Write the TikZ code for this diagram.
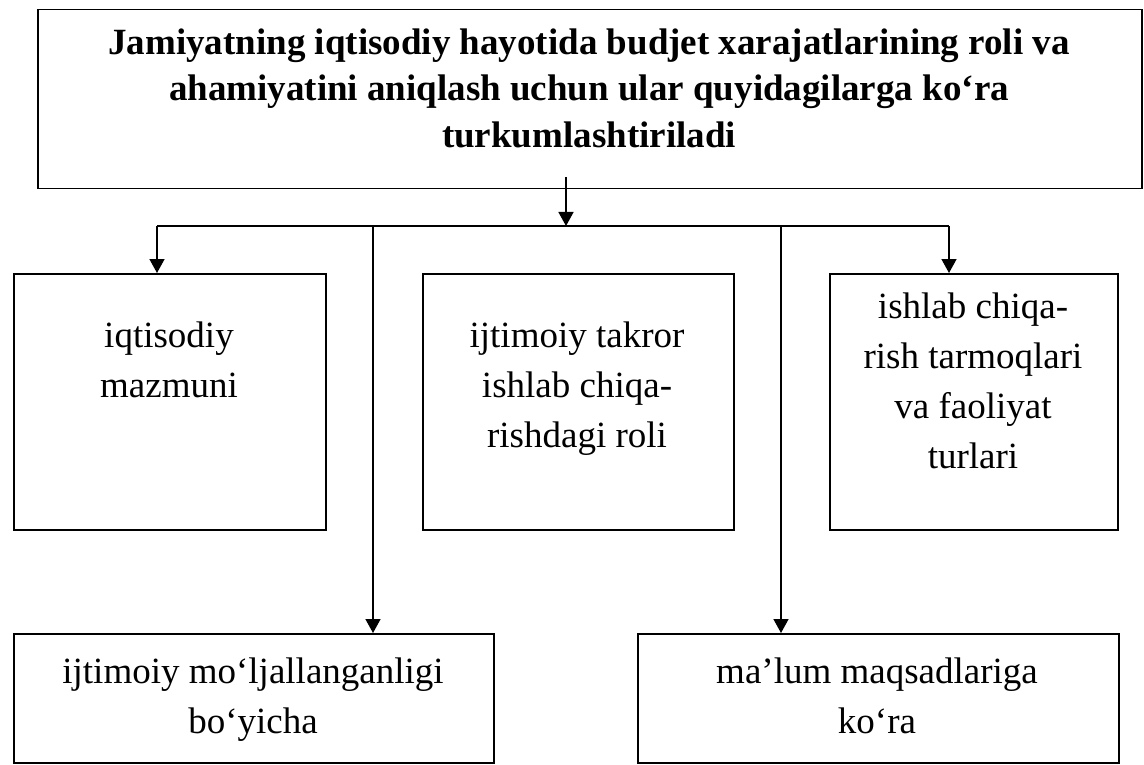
\documentclass[tikz,border=0pt]{standalone}
\usepackage{fontspec}
\setmainfont{Liberation Serif}
\usetikzlibrary{arrows.meta,calc}
\newcommand{\tstrut}{\rule{0pt}{28pt}}
\tikzset{
  box/.style={draw, line width=1.5pt, rectangle, inner sep=0pt, anchor=north west},
  txt/.style={inner sep=0pt, anchor=north, align=center, font=\fontsize{37}{50}\selectfont},
  ttl/.style={inner sep=0pt, anchor=north, align=center, font=\fontsize{37}{46.5}\selectfont\bfseries},
  conn/.style={line width=1.5pt},
  arr/.style={line width=1.5pt, -{Triangle[length=14pt,width=15pt]}}
}
\begin{document}
\begin{tikzpicture}[x=1pt,y=-1pt]
\useasboundingbox (0,0) rectangle (1144,765);
% boxes
\node[box, minimum width=1104pt, minimum height=179pt] (top) at (37,9) {};
\node[box, minimum width=312pt, minimum height=256pt] (b1) at (13,273) {};
\node[box, minimum width=311pt, minimum height=256pt] (b2) at (422,273) {};
\node[box, minimum width=288pt, minimum height=256pt] (b3) at (829,273) {};
\node[box, minimum width=480pt, minimum height=129pt] (b4) at (13,633) {};
\node[box, minimum width=481pt, minimum height=129pt] (b5) at (637,633) {};
% texts
\node[ttl] (ttop) at (589,26) {\tstrut Jamiyatning iqtisodiy hayotida budjet xarajatlarining roli va\\ahamiyatini aniqlash uchun ular quyidagilarga ko‘ra\\turkumlashtiriladi};
\node[txt] (t1) at (169,319) {\tstrut iqtisodiy\\mazmuni};
\node[txt] (t2) at (577,319) {\tstrut ijtimoiy takror\\ishlab chiqa-\\rishdagi roli};
\node[txt] (t3) at (973,290) {\tstrut ishlab chiqa-\\rish tarmoqlari\\va faoliyat\\turlari};
\node[txt] (t4) at (253,655) {\tstrut ijtimoiy mo‘ljallanganligi\\bo‘yicha};
\node[txt] (t5) at (877,655) {\tstrut ma’lum maqsadlariga\\ko‘ra};
% connectors
\coordinate (cs) at (566,177);
\coordinate (ce) at (566,226);
\coordinate (hl) at (157,226);
\coordinate (hr) at (949,226);
\coordinate (v1) at (373,226);
\coordinate (v2) at (781,226);
\draw[conn] (hl) -- (hr);
\draw[arr] (cs) -- (ce);
\draw[arr] (hl) -- (hl |- b1.north);
\draw[arr] (hr) -- (hr |- b3.north);
\draw[arr] (v1) -- (v1 |- b4.north);
\draw[arr] (v2) -- (v2 |- b5.north);
\end{tikzpicture}
\end{document}
